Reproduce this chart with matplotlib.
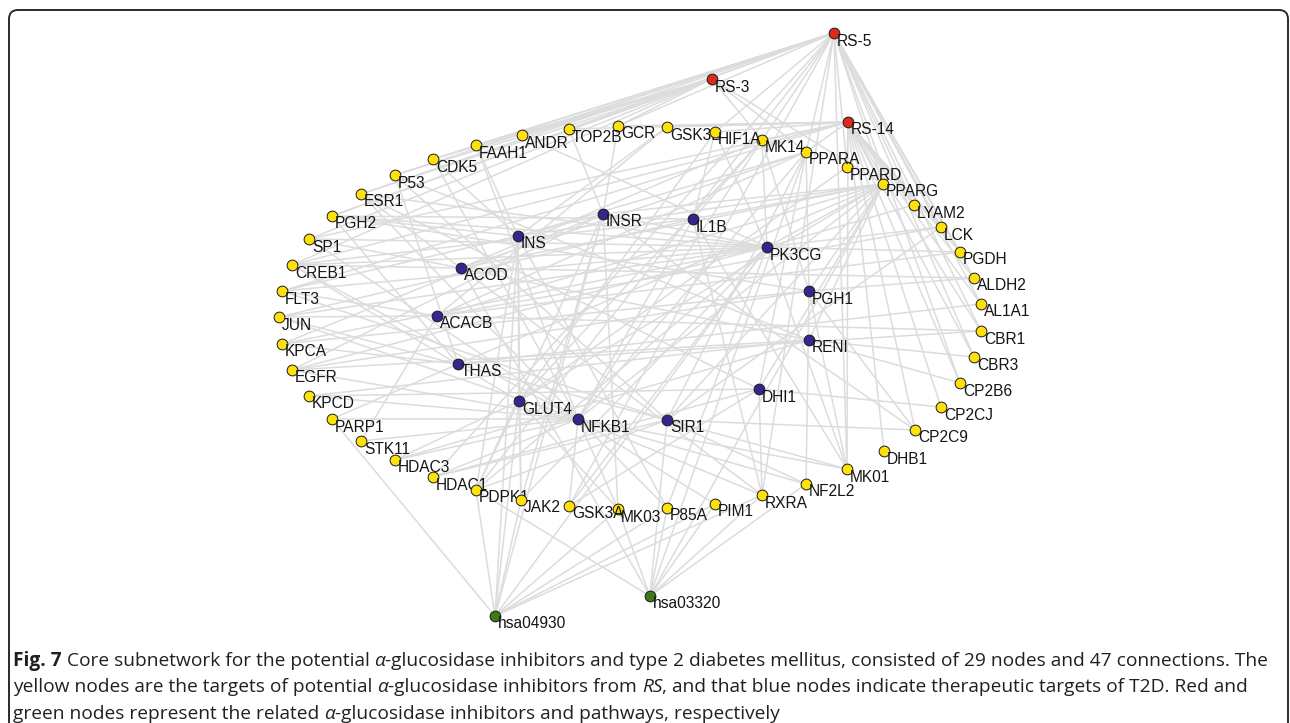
import matplotlib
matplotlib.use("Agg")
import matplotlib.pyplot as plt
from matplotlib.patches import FancyBboxPatch
from matplotlib.collections import LineCollection

W, H = 1290, 723

# ---- network layout (layout units, y grows downward) ----
red_nodes = ["RS-5", "RS-3", "RS-14"]
red_x = [834, 712, 848]
red_y = [33, 79, 122]

green_nodes = ["hsa04930", "hsa03320"]
green_x = [495, 650]
green_y = [616, 596]

blue_nodes = ["INSR", "IL1B", "INS", "PK3CG", "ACOD", "PGH1", "ACACB",
              "RENI", "THAS", "DHI1", "GLUT4", "NFKB1", "SIR1"]
blue_x = [603, 693, 518, 767, 461, 809, 437, 809, 458, 759, 519, 578, 667]
blue_y = [214, 219, 236, 247, 268, 291, 316, 340, 364, 389, 401, 419, 420]

yellow_nodes = ["GCR", "TOP2B", "ANDR", "FAAH1", "CDK5", "P53", "ESR1", "PGH2",
                "SP1", "CREB1", "FLT3", "JUN", "KPCA", "EGFR", "KPCD", "PARP1",
                "STK11", "HDAC3", "HDAC1", "PDPK1", "JAK2", "MK03", "GSK3A",
                "P85A", "PIM1", "RXRA", "NF2L2", "MK01", "DHB1", "CP2C9",
                "CP2CJ", "CP2B6", "CBR3", "CBR1", "AL1A1", "ALDH2", "PGDH",
                "LCK", "LYAM2", "PPARG", "PPARD", "PPARA", "MK14", "GSK3B",
                "HIF1A"]
yellow_x = [618, 569, 522, 476, 433, 395, 361, 332,
            309, 292, 282, 279, 282, 292, 309, 332,
            361, 395, 433, 476, 521, 618, 569,
            667, 715, 762, 806, 847, 884, 915,
            941, 960, 974, 981, 981, 974, 960,
            941, 914, 883, 847, 806, 762, 667,
            715]
yellow_y = [126, 129, 135, 145, 159, 175, 194, 216,
            239, 265, 291, 317, 344, 370, 396, 419,
            441, 460, 477, 490, 500, 509, 506,
            508, 504, 495, 484, 469, 451, 430,
            407, 383, 357, 331, 304, 278, 252,
            227, 205, 184, 167, 152, 140, 127,
            132]

# ---- connections ----
rs5_links = ["ANDR", "FAAH1", "CDK5", "P53", "ESR1", "PGH2", "TOP2B", "GCR",
             "HIF1A", "MK14", "PPARA", "PPARD", "PPARG", "LYAM2", "LCK", "PGDH",
             "ALDH2", "AL1A1", "CBR1", "CBR3", "CP2B6", "PDPK1", "MK01", "RXRA",
             "HDAC1", "GSK3A"]
rs3_links = ["ANDR", "FAAH1", "CDK5", "P53", "ESR1", "PGH2", "SP1", "TOP2B",
             "GCR", "MK14", "PPARA", "PPARG", "CREB1"]
rs14_links = ["GCR", "GSK3B", "HIF1A", "MK14", "PPARA", "PPARD", "PPARG",
              "LYAM2", "LCK", "PGDH", "ALDH2", "AL1A1", "CBR1", "CBR3", "CP2B6",
              "CP2CJ", "CP2C9", "DHB1", "MK01", "SP1", "CREB1", "FLT3", "TOP2B"]

ins_links = ["INSR", "CDK5", "FAAH1", "PGH2", "PPARG", "PPARA", "GSK3B", "JAK2",
             "PDPK1", "FLT3", "GLUT4", "P85A"]
insr_links = ["TOP2B", "GCR", "PPARG", "PDPK1", "JAK2", "KPCA", "EGFR", "PK3CG",
              "MK03", "CP2C9"]
il1b_links = ["PPARG", "MK14", "NFKB1", "PGH2", "HIF1A", "MK01", "CREB1", "JUN",
              "RXRA"]
pk3cg_links = ["FLT3", "JUN", "CREB1", "KPCA", "SP1", "PGH2", "ESR1", "PPARG",
               "LCK", "PGDH", "MK14", "HIF1A", "JAK2", "PDPK1", "EGFR", "GSK3A",
               "P85A", "MK01", "LYAM2", "ANDR"]
acod_links = ["PPARA", "PPARG", "SP1", "ESR1", "CREB1", "RXRA", "ALDH2", "MK14"]
pgh1_links = ["PPARG", "MK14", "PGH2", "MK01", "ALDH2", "CP2C9", "EGFR", "KPCA",
              "PPARA", "NF2L2"]
acacb_links = ["PPARA", "PPARG", "LCK", "STK11", "JUN", "FLT3", "GSK3B", "CBR1",
               "PGDH"]
reni_links = ["PPARG", "CBR3", "CP2B6", "HDAC3", "EGFR", "ACOD", "KPCD", "P53"]
thas_links = ["PGH2", "P53", "KPCA", "PPARG", "CBR1", "PARP1", "AL1A1"]
dhi1_links = ["PPARG", "GSK3A", "RXRA", "ESR1", "CP2CJ", "PPARA", "HDAC1", "KPCD"]
glut4_links = ["PPARG", "PDPK1", "JAK2", "HIF1A", "MK14", "HDAC3", "PPARD",
               "CREB1", "MK03"]
nfkb1_links = ["HDAC1", "HDAC3", "STK11", "PARP1", "KPCD", "GSK3A", "MK03",
               "P85A", "PIM1", "RXRA", "NF2L2", "MK01", "PPARA", "PPARG", "MK14",
               "ESR1", "CREB1", "JUN", "SP1", "EGFR", "FAAH1", "CDK5"]
sir1_links = ["PPARG", "HDAC1", "P53", "PPARA", "MK01", "NF2L2", "JUN", "LCK",
              "PDPK1", "CP2C9", "FLT3"]

hsa04930_links = ["PARP1", "PDPK1", "INS", "INSR", "GLUT4", "PK3CG", "MK03",
                  "P85A", "PIM1", "RXRA", "JAK2"]
hsa03320_links = ["PDPK1", "MK03", "P85A", "PIM1", "RXRA", "PPARG", "PPARA",
                  "ACOD", "NF2L2", "SIR1"]

link_table = {
    "RS-5": rs5_links, "RS-3": rs3_links, "RS-14": rs14_links,
    "INS": ins_links, "INSR": insr_links, "IL1B": il1b_links,
    "PK3CG": pk3cg_links, "ACOD": acod_links, "PGH1": pgh1_links,
    "ACACB": acacb_links, "RENI": reni_links, "THAS": thas_links,
    "DHI1": dhi1_links, "GLUT4": glut4_links, "NFKB1": nfkb1_links,
    "SIR1": sir1_links, "hsa04930": hsa04930_links, "hsa03320": hsa03320_links,
}

YELLOW = "#FFE10A"
BLUE = "#33278F"
RED = "#DA2A1C"
GREEN = "#3D7A18"

groups = [
    (yellow_nodes, yellow_x, yellow_y, YELLOW),
    (blue_nodes, blue_x, blue_y, BLUE),
    (red_nodes, red_x, red_y, RED),
    (green_nodes, green_x, green_y, GREEN),
]

pos = {}
for names, xs, ys, _ in groups:
    for n, x, y in zip(names, xs, ys):
        pos[n] = (x, y)

fig = plt.figure(figsize=(W / 100, H / 100), dpi=100)
ax = fig.add_axes([0, 0, 1, 1])
ax.set_xlim(0, W)
ax.set_ylim(H, 0)
ax.axis("off")

# edges
segments = []
for src, targets in link_table.items():
    for t in targets:
        segments.append([pos[src], pos[t]])
ax.add_collection(LineCollection(segments, colors="#DCDCDC", linewidths=1.1,
                                 zorder=1))

# nodes and labels, each label placed just below-right of its node
label_font = ["Liberation Sans", "DejaVu Sans"]
z = 2
for names, xs, ys, color in groups:
    for n, x, y in zip(names, xs, ys):
        ax.scatter([x], [y], s=60, c=color, edgecolors="#1a1a1a",
                   linewidths=0.7, zorder=z)
        ax.text(x + 3, y + 12.5, n, fontsize=11.2, family=label_font,
                color="#151515", ha="left", va="baseline", zorder=z + 1)
        z += 2

# framed panel with rounded corners
frame = FancyBboxPatch((9, 10), 1279, 900,
                       boxstyle="round,pad=0,rounding_size=9",
                       facecolor="none", edgecolor="#2a2a2a", linewidth=1.4,
                       zorder=0)
ax.add_patch(frame)

# ---- caption ----
caption_lines = [
    [("Fig. 7", "bold", "normal"),
     (" Core subnetwork for the potential ", "normal", "normal"),
     ("α", "normal", "italic"),
     ("-glucosidase inhibitors and type 2 diabetes mellitus, consisted of 29 "
      "nodes and 47 connections. The", "normal", "normal")],
    [("yellow nodes are the targets of potential ", "normal", "normal"),
     ("α", "normal", "italic"),
     ("-glucosidase inhibitors from ", "normal", "normal"),
     ("RS", "normal", "italic"),
     (", and that blue nodes indicate therapeutic targets of T2D. Red and",
      "normal", "normal")],
    [("green nodes represent the related ", "normal", "normal"),
     ("α", "normal", "italic"),
     ("-glucosidase inhibitors and pathways, respectively", "normal", "normal")],
]
caption_baselines = [666, 692.5, 719]
cap_font = ["Open Sans", "DejaVu Sans"]
cap_color = "#231F20"

renderer = fig.canvas.get_renderer()


def seg_width(txt, size, weight, style):
    kw = dict(fontsize=size, family=cap_font, fontweight=weight, fontstyle=style)
    t1 = ax.text(0, 0, txt + "|", **kw)
    t2 = ax.text(0, 0, "|", **kw)
    w = t1.get_window_extent(renderer).width - t2.get_window_extent(renderer).width
    t1.remove()
    t2.remove()
    return w


x_left, x_right = 13, 1264
base_size = 12.0
line_w = sum(seg_width(s, base_size, w, st) for s, w, st in caption_lines[0])
cap_size = base_size * (x_right - x_left) / line_w

for segs, yb in zip(caption_lines, caption_baselines):
    x = x_left
    for s, w, st in segs:
        ax.text(x, yb, s, fontsize=cap_size, family=cap_font, fontweight=w,
                fontstyle=st, color=cap_color, ha="left", va="baseline",
                zorder=200)
        x += seg_width(s, cap_size, w, st)

fig.savefig("out.png", dpi=100)
